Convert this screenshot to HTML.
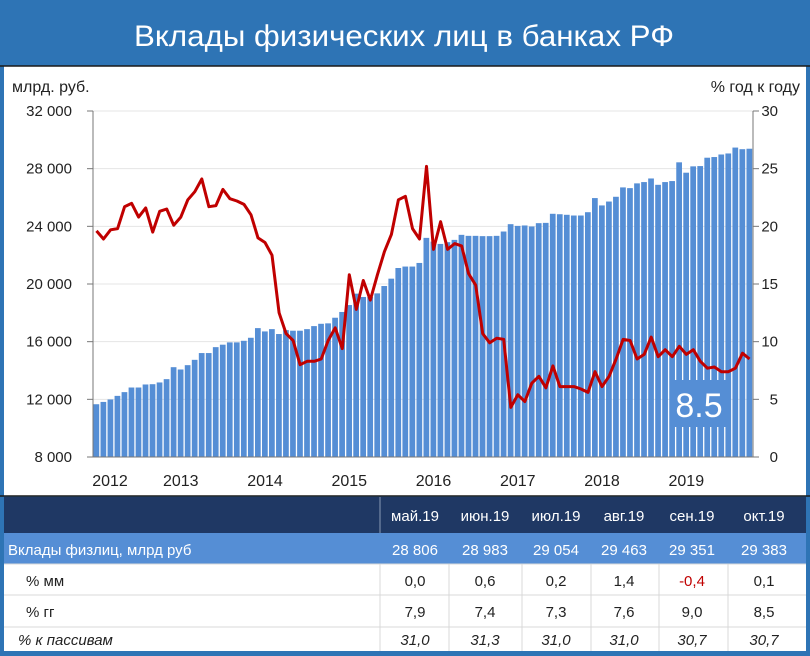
<!DOCTYPE html>
<html><head><meta charset="utf-8"><style>
html,body{margin:0;padding:0;background:#2e74b5;}
svg{display:block;font-family:"Liberation Sans",sans-serif;}
</style></head><body>
<svg id="c" width="810" height="656" viewBox="0 0 810 656">
<rect x="0" y="0" width="810" height="656" fill="#2e74b5"/>
<text x="404" y="46" text-anchor="middle" font-size="30" fill="#fff" textLength="540" lengthAdjust="spacingAndGlyphs">Вклады физических лиц в банках РФ</text>
<rect x="4" y="66" width="802" height="430" fill="#fff"/>
<line x1="0" y1="66" x2="810" y2="66" stroke="#1a1a1a" stroke-width="1.5"/>
<line x1="0" y1="496" x2="810" y2="496" stroke="#1a1a1a" stroke-width="1.5"/>
<text x="12" y="92" font-size="16" fill="#222">млрд. руб.</text>
<text x="800" y="92" font-size="16" fill="#222" text-anchor="end">% год к году</text>
<g id="grid"></g><g id="bars"></g><g id="axes"></g>
<rect x="672" y="380" width="55" height="47" fill="#558ed5"/>
<g id="line"></g>
<text x="699" y="417" font-size="34" fill="#fff" text-anchor="middle">8.5</text>
<!-- table -->
<rect x="4" y="497" width="802" height="36" fill="#1f3864"/>
<line x1="380" y1="497" x2="380" y2="533" stroke="#8a9ab5" stroke-width="1"/>
<rect x="4" y="533" width="802" height="31" fill="#558ed5"/>
<rect x="4" y="564" width="802" height="87" fill="#fff"/>
<g id="tbl" font-size="15"></g>
</svg>
<script>
const categoriesStart = 2012;
const yearLabels = ['2012','2013','2014','2015','2016','2017','2018','2019'];
const leftTicks = [8000,12000,16000,20000,24000,28000,32000];
const rightTicks = [0,5,10,15,20,25,30];
const deposits = [11.66,11.82,11.99,12.24,12.50,12.82,12.82,13.03,13.05,13.17,13.40,14.23,
14.07,14.37,14.74,15.21,15.21,15.62,15.79,15.95,15.95,16.06,16.27,16.94,
16.71,16.87,16.53,16.80,16.76,16.76,16.87,17.08,17.24,17.27,17.66,18.06,
18.54,19.33,19.10,19.10,19.35,19.86,20.37,21.11,21.21,21.21,21.46,23.20,
22.94,22.78,22.90,23.06,23.41,23.34,23.34,23.32,23.32,23.34,23.64,24.15,
24.03,24.06,23.99,24.22,24.24,24.87,24.84,24.80,24.75,24.75,24.98,25.96,
25.45,25.72,26.05,26.70,26.65,26.98,27.07,27.32,26.88,27.07,27.14,28.44,
27.72,28.16,28.18,28.76,28.806,28.983,29.054,29.463,29.351,29.383];
const growthYoY = [19.6,18.9,19.7,19.8,21.7,22.0,20.8,21.6,19.5,21.3,21.5,20.1,
20.8,22.3,23.0,24.1,21.7,21.8,23.2,22.4,22.2,21.9,21.0,19.0,
18.6,17.5,12.5,10.7,10.1,8.0,8.3,8.3,8.5,10.1,11.2,9.4,
15.8,12.8,15.3,13.6,15.8,17.8,19.3,22.3,22.6,19.8,18.9,25.2,
18.0,20.4,18.0,18.5,18.3,15.9,14.9,10.7,9.9,10.3,10.2,4.3,
5.4,4.8,6.4,7.0,6.0,7.9,6.1,6.1,6.1,5.9,5.6,7.4,
6.1,7.0,8.5,10.2,10.1,8.5,8.9,10.4,8.7,9.3,8.7,9.6,
8.9,9.3,8.3,7.7,7.8,7.4,7.4,7.7,9.0,8.5];
const tableMonths = ['май.19','июн.19','июл.19','авг.19','сен.19','окт.19'];
const tableDeposits = ['28 806','28 983','29 054','29 463','29 351','29 383'];
const tableMoM = ['0,0','0,6','0,2','1,4','-0,4','0,1'];
const tableYoY = ['7,9','7,4','7,3','7,6','9,0','8,5'];
const tableShare = ['31,0','31,3','31,0','31,0','30,7','30,7'];

const NS='http://www.w3.org/2000/svg';
const X0=93,X1=753,Y0=457,Y1=111;
const n=deposits.length, bw=(X1-X0)/n;
const xIdx=i=>X0+bw*i;
const yL=v=>Y0-(v-8000)/24000*(Y0-Y1);
const yR=v=>Y0-v/30*(Y0-Y1);
function mk(tag,attrs,parent,txt){const e=document.createElementNS(NS,tag);for(const k in attrs)e.setAttribute(k,attrs[k]);if(txt!=null)e.textContent=txt;parent.appendChild(e);return e;}
const grid=document.getElementById('grid'),bars=document.getElementById('bars'),axes=document.getElementById('axes'),lineG=document.getElementById('line'),tbl=document.getElementById('tbl');
leftTicks.forEach((t,i)=>{
  const y=yL(t);
  if(i>0){const g=mk('line',{x1:X0,x2:X1,y1:y,y2:y,stroke:'#e4e4e4','stroke-width':1},grid);
  
  }
  mk('line',{x1:X0-6,x2:X0,y1:y,y2:y,stroke:'#777'},axes);
  const tl=mk('text',{x:72,y:y+5,'font-size':15,'text-anchor':'end',fill:'#222'},axes,t.toLocaleString('ru-RU').replace(/\u00a0|\u202f/g,' '));
  
  
});
rightTicks.forEach(t=>{
  const y=yR(t);
  mk('line',{x1:X1,x2:X1+6,y1:y,y2:y,stroke:'#777'},axes);
  const tl=mk('text',{x:778,y:y+5,'font-size':15,'text-anchor':'end',fill:'#222'},axes,String(t));
  
  
});
mk('line',{x1:X0,x2:X0,y1:Y1,y2:Y0,stroke:'#777'},axes);
mk('line',{x1:X1,x2:X1,y1:Y1,y2:Y0,stroke:'#777'},axes);
mk('line',{x1:X0,x2:X1,y1:Y0,y2:Y0,stroke:'#777'},axes);
deposits.forEach((v,i)=>{
  const y=yL(v*1000);
  const r=mk('rect',{x:xIdx(i)+0.5,y:y,width:bw-1.3,height:Y0-y,fill:'#558ed5'},bars);
  
  
});
yearLabels.forEach((l,k)=>{
  let x=xIdx(k*12)+bw/2; if(k===0)x=110;
  const t=mk('text',{x:x,y:486,'font-size':16,'text-anchor':'middle',fill:'#222'},axes,l);
  
  
});
const pts=growthYoY.map((v,i)=>(xIdx(i)+bw/2).toFixed(1)+','+yR(v).toFixed(1)).join(' ');
const pl=mk('polyline',{points:pts,fill:'none',stroke:'#c00000','stroke-width':3,'stroke-linejoin':'round'},lineG);


// table
const colX=[415,485,556,624,692,764];
tableMonths.forEach((m,i)=>{
  const t=mk('text',{x:colX[i],y:521,'text-anchor':'middle',fill:'#fff'},tbl,m);
  
  
});
const rows=[
 {label:'Вклады физлиц, млрд руб',vals:tableDeposits,y:555,lx:8,color:'#fff',italic:false,name:'deposits-row'},
 {label:'% мм',vals:tableMoM,y:586,lx:26,color:'#222',italic:false,name:'mom-row'},
 {label:'% гг',vals:tableYoY,y:617,lx:26,color:'#222',italic:false,name:'yoy-row'},
 {label:'% к пассивам',vals:tableShare,y:645,lx:18,color:'#222',italic:true,name:'share-row'}];
[564,595,627].forEach(y=>mk('line',{x1:4,x2:806,y1:y,y2:y,stroke:'#d9d9d9'},tbl));
[380,449,522,591,659,728].forEach(x=>mk('line',{x1:x,x2:x,y1:564,y2:651,stroke:'#d9d9d9'},tbl));
rows.forEach(r=>{
  const st=r.italic?'italic':'normal';
  const t=mk('text',{x:r.lx,y:r.y,fill:r.color,'font-style':st},tbl,r.label);
  
  
  r.vals.forEach((v,i)=>{
    const c=(v.startsWith('-'))?'#c00000':r.color;
    const e=mk('text',{x:colX[i],y:r.y,'text-anchor':'middle',fill:c,'font-style':st},tbl,v);
    
    
  });
});
</script>
</body></html>
